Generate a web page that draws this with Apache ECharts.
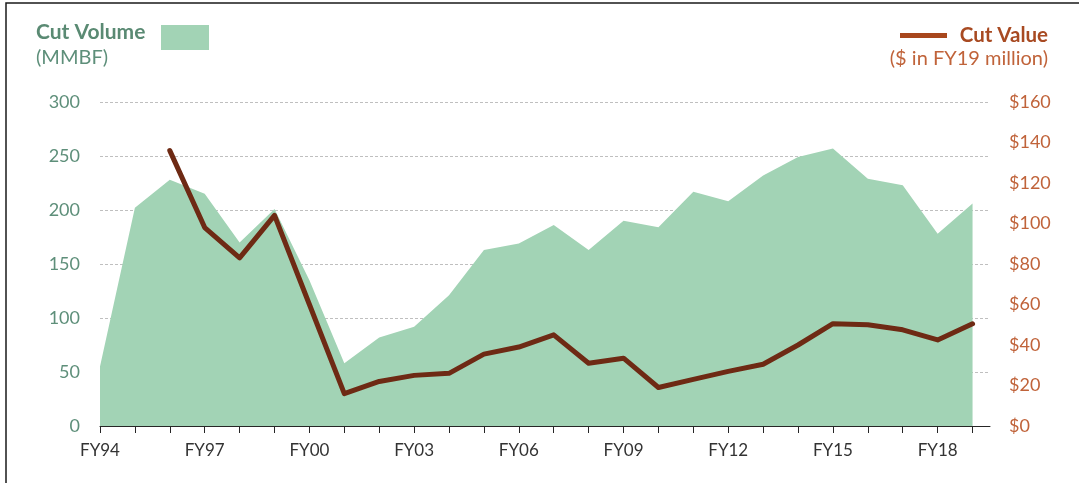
<!DOCTYPE html>
<html>
<head>
<meta charset="utf-8">
<script src="https://cdn.jsdelivr.net/npm/echarts@6/dist/echarts.min.js"></script>
<style>
html,body{margin:0;padding:0;background:#fff;}
#chart{width:1079px;height:483px;}
</style>
</head>
<body>
<div id="chart"></div>
<script>
var categories = ['FY94','FY95','FY96','FY97','FY98','FY99','FY00','FY01','FY02','FY03','FY04','FY05','FY06','FY07','FY08','FY09','FY10','FY11','FY12','FY13','FY14','FY15','FY16','FY17','FY18','FY19'];
var labeledCategories = ['FY94','FY97','FY00','FY03','FY06','FY09','FY12','FY15','FY18'];
var cutVolume = [55,202,228,215,170,201,135,58,82,92,121,163,169,186,163,190,184,217,208,232,249,257,229,223,178,206];
var cutValue = [null,null,136,98,83,104,60,16,22,25,26,35.5,39,45,31,33.5,19,23,27,30.5,40,50.5,50,47.5,42.5,50.5];
var volumeTicks = [0,50,100,150,200,250,300];
var valueTicks = [0,20,40,60,80,100,120,140,160];

var startYear = 1994;
function yearOf(cat){ return startYear + categories.indexOf(cat); }
var volData = categories.map(function(c,i){ return [yearOf(c), cutVolume[i]]; });
var valData = categories.map(function(c,i){ return [yearOf(c), cutValue[i]]; });

var font = 'Lato, "Noto Sans", sans-serif';
var chart = echarts.init(document.getElementById('chart'), null, {renderer:'canvas'});
chart.setOption({
  animation:false,
  grid:{left:100, right:89, top:102, bottom:57, containLabel:false},
  xAxis:{
    type:'value',
    min:yearOf('FY94'),
    max:yearOf('FY19')+0.5,
    splitLine:{show:false},
    axisLine:{show:true, lineStyle:{color:'#262626', width:1}},
    axisTick:{show:true, inside:false, length:7, lineStyle:{color:'#262626', width:1},
      customValues: categories.map(yearOf)},
    axisLabel:{color:'#333333', fontSize:17, fontFamily:font, margin:16,
      customValues: labeledCategories.map(yearOf),
      formatter:function(v){ return categories[Math.round(v)-startYear] || ''; }}
  },
  yAxis:[{
    type:'value', min:volumeTicks[0], max:volumeTicks[volumeTicks.length-1], interval:50,
    axisLine:{show:false}, axisTick:{show:false},
    splitLine:{show:true, lineStyle:{color:'#BFBFBF', type:[3,2], width:1}},
    axisLabel:{color:'#5E8F7A', fontSize:18, fontFamily:font, margin:20}
  },{
    type:'value', min:valueTicks[0], max:valueTicks[valueTicks.length-1], interval:20,
    position:'right',
    axisLine:{show:false}, axisTick:{show:false}, splitLine:{show:false},
    axisLabel:{color:'#C0633A', fontSize:18, fontFamily:font, margin:19,
      formatter:function(v){ return '$'+v; }}
  }],
  series:[{
    name:'Cut Volume', type:'line', data:volData, yAxisIndex:0,
    symbol:'none', lineStyle:{width:0}, areaStyle:{color:'#A2D3B5', opacity:1},
    z:1
  },{
    name:'Cut Value', type:'line', data:valData, yAxisIndex:1,
    symbol:'none', connectNulls:false,
    lineStyle:{color:'#6E2A14', width:5, join:'round', cap:'round'},
    z:3
  }],
  graphic:[
    {type:'rect', shape:{x:6, y:3, width:1200, height:600}, style:{fill:'none', stroke:'#1a1a1a', lineWidth:1.5}, silent:true},
    {type:'text', left:36, top:22, style:{text:'Cut Volume', font:'bold 21px '+font, fill:'#5A8A73'}},
    {type:'text', left:36, top:48, style:{text:'(MMBF)', font:'20px '+font, fill:'#5E8F7A'}},
    {type:'rect', shape:{x:161, y:25, width:48, height:25}, style:{fill:'#A2D3B5'}},
    {type:'rect', shape:{x:900, y:33, width:47, height:5}, style:{fill:'#A8471D'}},
    {type:'text', right:31, top:25, style:{text:'Cut Value', font:'bold 20.5px '+font, fill:'#A84A22', textAlign:'right'}},
    {type:'text', right:31, top:49, style:{text:'($ in FY19 million)', font:'20px '+font, fill:'#C0633A', textAlign:'right'}}
  ]
});
</script>
</body>
</html>
